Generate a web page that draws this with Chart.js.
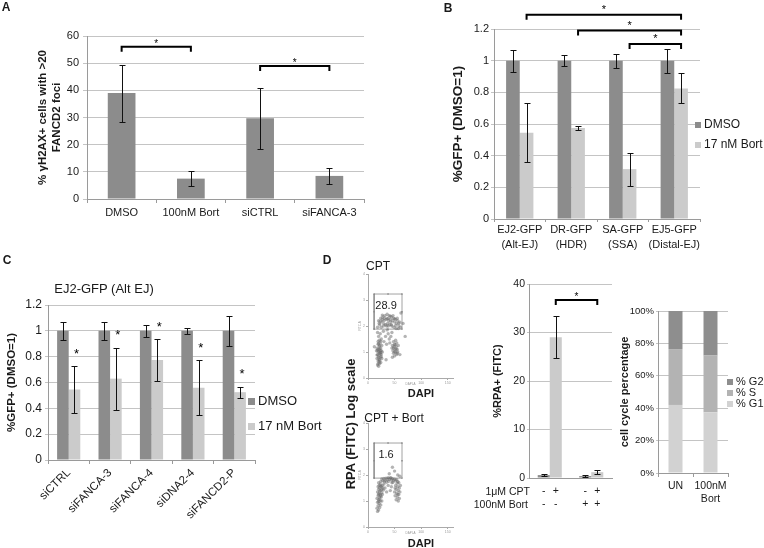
<!DOCTYPE html>
<html>
<head>
<meta charset="utf-8">
<script src="https://cdn.jsdelivr.net/npm/chart.js@4.4.1/dist/chart.umd.min.js"></script>
<style>
  body { margin: 0; background: #fff; }
  #wrap { position: relative; width: 764px; height: 548px; overflow: hidden; font-family: "Liberation Sans", Arial, sans-serif; color: #1a1a1a; }
  #wrap canvas { position: absolute; left: 0; top: 0; }
  .t { position: absolute; white-space: nowrap; line-height: 1; transform: translate(-50%, -50%); }
  .r { position: absolute; white-space: nowrap; line-height: 1; transform: translateY(-50%); text-align: right; }
  .b { font-weight: bold; }
</style>
</head>
<body>
<div id="wrap">
  <canvas id="cA" width="764" height="548"></canvas>
  <canvas id="cB" width="764" height="548"></canvas>
  <canvas id="cC" width="764" height="548"></canvas>
  <canvas id="cF1" width="764" height="548"></canvas>
  <canvas id="cF2" width="764" height="548"></canvas>
  <canvas id="cD" width="764" height="548"></canvas>
  <canvas id="cS" width="764" height="548"></canvas>

  <div class="t b" style="left:6px;top:7px;font-size:12px">A</div>
  <div class="t b" style="left:448px;top:8px;font-size:12px">B</div>
  <div class="t b" style="left:7px;top:260px;font-size:12px">C</div>
  <div class="t b" style="left:327px;top:260px;font-size:12px">D</div>
  <div class="t" style="left:104px;top:288px;font-size:13px">EJ2-GFP (Alt EJ)</div>
  <div class="t" style="left:378px;top:266px;font-size:12px">CPT</div>
  <div class="t" style="left:394px;top:418px;font-size:12px">CPT + Bort</div>
  <div class="t b" style="left:421px;top:393px;font-size:11px">DAPI</div>
  <div class="t b" style="left:421px;top:543px;font-size:11px">DAPI</div>
  <div class="t b" style="left:350px;top:424px;font-size:13px;transform:translate(-50%,-50%) rotate(-90deg)">RPA (FITC) Log scale</div>
  <div class="r" style="right:234px;top:491px;font-size:10.5px">1μM CPT</div>
  <div class="r" style="right:236px;top:504px;font-size:10.5px">100nM Bort</div>
</div>
<script>
// ---- panel A ----
const aLabels = ['DMSO', '100nM Bort', 'siCTRL', 'siFANCA-3'];
const aValues = [39, 7.5, 29.7, 8.5];
const aErrors = [10.5, 2.8, 11.3, 2.8];
const aBrackets = [[0, 1, 56], [2, 3, 49]];   // from bar, to bar, level

// ---- panel B ----
const bLabels = [['EJ2-GFP', '(Alt-EJ)'], ['DR-GFP', '(HDR)'], ['SA-GFP', '(SSA)'], ['EJ5-GFP', '(Distal-EJ)']];
const bDmso = [1, 1, 1, 1];
const bDmsoErr = [0.07, 0.035, 0.045, 0.075];
const bBort = [0.545, 0.575, 0.315, 0.825];
const bBortErr = [0.185, 0.012, 0.105, 0.095];
const bBrackets = [[0, 3, 1.29], [1, 3, 1.19], [2, 3, 1.105]];

// ---- panel C ----
const cLabels = ['siCTRL', 'siFANCA-3', 'siFANCA-4', 'siDNA2-4', 'siFANCD2-P'];
const cDmso = [1, 1, 1, 1, 1];
const cDmsoErr = [0.07, 0.07, 0.048, 0.025, 0.118];
const cBort = [0.545, 0.63, 0.775, 0.56, 0.525];
const cBortErr = [0.183, 0.24, 0.163, 0.215, 0.043];
const cStars = [0.83, 0.98, 1.04, 0.88, 0.68];

// ---- panel D, flow plots (DAPI vs RPA log decades) ----
const flowCpt = [
  // G1 column
  [18,0.5],[20,0.45],[22,0.55],[19,0.65],[24,0.6],[21,0.7],[17,0.75],[23,0.8],[26,0.75],[20,0.85],
  [18,0.9],[22,0.95],[25,0.9],[19,1.0],[23,1.05],[27,1.0],[20,1.1],[17,1.15],[24,1.15],[21,1.2],
  [26,1.25],[19,1.3],[23,1.35],[21,1.45],[25,1.5],[20,1.6],[23,1.7],[18,1.75],[22,0.68],[20,0.78],
  [24,0.98],[16,1.05],[22,1.25],[19,1.4],[21,0.62],[25,0.82],[18,1.08],[22,1.12],[20,1.32],[24,1.42],
  [19,0.55],[23,0.92],[21,1.0],[17,0.88],[25,1.05],
  // G2 column
  [46,0.8],[50,0.85],[54,0.9],[48,0.95],[52,1.0],[56,1.0],[47,1.05],[51,1.1],[55,1.1],[49,1.2],
  [53,1.2],[46,1.25],[50,1.3],[54,1.35],[48,1.4],[52,1.45],[57,1.25],[45,1.15],[50,1.0],[53,1.12],
  [48,1.15],[51,1.28],[55,0.95],
  // S phase
  [30,1.4],[35,1.3],[40,1.5],[33,1.6],[38,1.7],[43,1.6],[29,1.8],[36,1.85],[41,1.35],[45,1.75],
  // RPA+ band
  [18,1.95],[22,2.05],[26,2.15],[30,2.2],[34,2.25],[38,2.3],[42,2.25],[46,2.2],[50,2.15],[54,2.1],
  [58,2.0],[61,1.95],[20,2.2],[24,2.3],[28,2.35],[32,2.4],[36,2.45],[40,2.4],[44,2.35],[48,2.3],
  [52,2.25],[56,2.2],[60,2.15],[25,1.95],[29,2.0],[33,2.05],[37,2.1],[41,2.05],[45,2.0],[49,1.95],
  [53,1.9],[57,1.9],[31,2.3],[39,2.2],[47,2.4],[35,2.0],[43,2.15],[27,2.25],[55,2.3],[21,2.1],
  [23,2.18],[30,2.08],[36,2.28],[42,2.38],[50,2.28],[58,2.1],[27,2.42],[44,2.05],[38,2.0],[52,2.02],
  [62,2.5],[66,2.1],[70,1.6],[12,1.2],[60,0.9],[34,0.7]
];
const flowCptBort = [
  [18,0.6],[20,0.65],[17,0.72],[22,0.75],[19,0.82],[24,0.85],[21,0.9],[18,0.95],[23,1.0],[26,1.0],
  [20,1.05],[17,1.1],[22,1.15],[25,1.15],[19,1.2],[23,1.25],[27,1.25],[21,1.3],[18,1.35],[24,1.4],
  [26,1.45],[20,1.45],[22,1.5],[28,1.5],[19,1.55],[25,1.55],[21,1.6],[27,1.6],[23,1.65],[30,1.65],
  [20,0.98],[22,1.08],[24,1.2],[26,1.32],[20,1.25],[22,1.38],[24,1.58],[29,1.42],
  [20,1.7],[24,1.75],[28,1.78],[32,1.8],[36,1.82],[40,1.83],[44,1.82],[48,1.8],[52,1.78],[56,1.75],
  [26,1.85],[30,1.87],[34,1.88],[38,1.9],[42,1.88],[46,1.86],[50,1.84],[54,1.82],[58,1.7],[35,1.72],
  [45,1.7],[31,1.74],[39,1.76],[47,1.72],[43,1.9],
  [52,1.6],[56,1.55],[59,1.5],[53,1.45],[57,1.4],[60,1.35],[54,1.3],[58,1.25],[51,1.2],[55,1.15],
  [59,1.1],[53,1.05],[57,1.0],[50,1.35],[61,1.6],[55,1.68],[51,1.5],[56,1.25],
  [32,1.5],[38,1.6],[44,1.55],[35,1.35],[42,1.4],
  [40,2.05],[50,2.15],[56,2.0],[46,2.3],[60,1.95]
];
const gateBox = [[11.5,1.88],[37.75,1.88],[64,1.88],[64,2.55],[64,3.23],[37.75,3.23],[11.5,3.23],[11.5,2.55],[11.5,1.88]];
const gatePercent = ['28.9', '1.6'];

// ---- panel D, RPA bars ----
const dGroups = ['', ''];
const dNoCpt = [0.6, 0.4];
const dNoCptErr = [0.2, 0.15];
const dCpt = [29, 1.2];
const dCptErr = [4.3, 0.4];
const dCptRow = ['-', '+', '-', '+'];
const dBortRow = ['-', '-', '+', '+'];
const dBrackets = [[0, 1, 36.7]];

// ---- panel D, cell cycle ----
const sLabels = ['UN', ['100nM', 'Bort']];
const sG1 = [42, 37.5];
const sS = [34.5, 35];
const sG2 = [23.5, 27.5];

const DARK = '#8c8c8c', LIGHT = '#cbcbcb', GRID = '#c4c4c4', AXIS = '#9a9a9a', TEXT = '#1a1a1a';
const FONT = '"Liberation Sans", Arial, sans-serif';
Chart.defaults.font.family = FONT;
Chart.defaults.color = TEXT;

const errorBars = {
  id: 'errorBars',
  afterDatasetsDraw(chart) {
    const ctx = chart.ctx, y = chart.scales.y;
    chart.data.datasets.forEach((ds, i) => {
      if (!ds.err) return;
      chart.getDatasetMeta(i).data.forEach((bar, j) => {
        const v = ds.data[j], e = ds.err[j];
        const x = Math.round(bar.x) + 0.5;
        const t = Math.round(y.getPixelForValue(v + e)) + 0.5;
        const b = Math.round(y.getPixelForValue(v - e)) + 0.5;
        ctx.save();
        ctx.strokeStyle = '#111';
        ctx.lineWidth = 1;
        ctx.beginPath();
        ctx.moveTo(x, t); ctx.lineTo(x, b);
        ctx.moveTo(x - 3, t); ctx.lineTo(x + 3, t);
        ctx.moveTo(x - 3, b); ctx.lineTo(x + 3, b);
        ctx.stroke();
        ctx.restore();
      });
    });
  }
};

const brackets = {
  id: 'brackets',
  afterDatasetsDraw(chart, args, opts) {
    if (!opts.items) return;
    const ctx = chart.ctx, meta = chart.getDatasetMeta(opts.dataset);
    opts.items.forEach(([from, to, level]) => {
      const x1 = meta.data[from].x, x2 = meta.data[to].x;
      const yy = chart.scales.y.getPixelForValue(level);
      ctx.save();
      ctx.strokeStyle = '#000';
      ctx.lineWidth = 2;
      ctx.beginPath();
      ctx.moveTo(x1, yy + opts.drop);
      ctx.lineTo(x1, yy);
      ctx.lineTo(x2, yy);
      ctx.lineTo(x2, yy + opts.drop);
      ctx.stroke();
      ctx.fillStyle = '#000';
      ctx.font = opts.starSize + 'px ' + FONT;
      ctx.textAlign = 'center';
      ctx.textBaseline = 'alphabetic';
      ctx.fillText('*', (x1 + x2) / 2, yy - opts.starGap);
      ctx.restore();
    });
  }
};

const stars = {
  id: 'stars',
  afterDatasetsDraw(chart, args, opts) {
    if (!opts.values) return;
    const ctx = chart.ctx, meta = chart.getDatasetMeta(opts.dataset);
    ctx.save();
    ctx.fillStyle = '#000';
    ctx.font = opts.size + 'px ' + FONT;
    ctx.textAlign = 'center';
    ctx.textBaseline = 'alphabetic';
    opts.values.forEach((v, j) => {
      ctx.fillText('*', meta.data[j].x + 2, chart.scales.y.getPixelForValue(v) + opts.size * 0.42);
    });
    ctx.restore();
  }
};

const boxLegend = {
  id: 'boxLegend',
  afterDraw(chart, args, opts) {
    if (!opts.x) return;
    const ctx = chart.ctx;
    const order = opts.order || chart.data.datasets.map((d, i) => i);
    ctx.save();
    ctx.font = opts.size + 'px ' + FONT;
    ctx.textBaseline = 'middle';
    order.forEach((i, k) => {
      const ds = chart.data.datasets[i];
      const y = opts.y + k * opts.gap;
      ctx.fillStyle = ds.backgroundColor;
      ctx.fillRect(opts.x, Math.round(y - opts.box / 2), opts.box, opts.box);
      ctx.fillStyle = TEXT;
      ctx.fillText(ds.label, opts.x + opts.box + 3, y);
    });
    ctx.restore();
  }
};

const signRows = {
  id: 'signRows',
  afterDraw(chart, args, opts) {
    if (!opts.rows) return;
    const ctx = chart.ctx;
    ctx.save();
    ctx.font = opts.size + 'px ' + FONT;
    ctx.fillStyle = TEXT;
    ctx.textAlign = 'center';
    ctx.textBaseline = 'middle';
    opts.rows.forEach((row, r) => {
      row.forEach((s, k) => {
        const bar = chart.getDatasetMeta(k % 2).data[Math.floor(k / 2)];
        ctx.fillText(s, bar.x, opts.y[r]);
      });
    });
    ctx.restore();
  }
};

const gateLabel = {
  id: 'gateLabel',
  afterDraw(chart, args, opts) {
    if (!opts.text) return;
    const ctx = chart.ctx;
    ctx.save();
    ctx.font = opts.size + 'px ' + FONT;
    ctx.fillStyle = TEXT;
    ctx.textAlign = 'center';
    ctx.textBaseline = 'middle';
    ctx.fillText(opts.text, chart.scales.x.getPixelForValue(opts.at[0]), chart.scales.y.getPixelForValue(opts.at[1]));
    ctx.restore();
  }
};

function yAxis(min, max, step, size, tl, pad, title, titleSize, fmt) {
  return {
    min: min, max: max,
    ticks: { stepSize: step, font: { size: size }, padding: pad, color: TEXT, callback: fmt },
    grid: { color: GRID, tickLength: tl },
    border: { color: AXIS },
    title: { display: !!title, text: title, font: { size: titleSize, weight: 'bold' }, padding: 0, color: TEXT }
  };
}

function xAxis(size, tl, pad, extra) {
  return Object.assign({
    ticks: { font: { size: size }, padding: pad, color: TEXT, autoSkip: false, maxRotation: 0 },
    grid: { drawOnChartArea: false, tickLength: tl, color: AXIS, offset: true },
    border: { color: AXIS }
  }, extra || {});
}

function place(id, box, yW, xH, cfg) {
  const o = cfg.options;
  o.responsive = false;
  o.animation = false;
  o.layout = { padding: { left: box[0] - yW, top: box[1], right: 764 - box[2], bottom: 548 - box[3] - xH } };
  o.scales.x.afterFit = s => { s.height = xH; };
  o.scales.y.afterFit = s => { s.width = yW; };
  o.plugins = Object.assign({ legend: { display: false }, tooltip: { enabled: false } }, o.plugins);
  cfg.plugins = [errorBars, brackets, stars, boxLegend, signRows, gateLabel];
  return new Chart(document.getElementById(id), cfg);
}

const dec1 = v => String(+v.toFixed(1));

// A
place('cA', [87, 36, 364, 199], 87 - 36, 30, {
  type: 'bar',
  data: { labels: aLabels, datasets: [
    { label: 'A', data: aValues, err: aErrors, backgroundColor: DARK, barPercentage: 1, categoryPercentage: 0.4 }
  ] },
  options: {
    scales: {
      x: xAxis(11, 4, 3),
      y: yAxis(0, 60, 10, 11, 4, 4, ['% γH2AX+ cells with >20', 'FANCD2 foci'], 11.5)
    },
    plugins: { brackets: { dataset: 0, items: aBrackets, drop: 5, starSize: 10, starGap: 0 } }
  }
});

// B
place('cB', [494, 29, 700, 219], 494 - 450, 40, {
  type: 'bar',
  data: { labels: bLabels, datasets: [
    { label: 'DMSO', data: bDmso, err: bDmsoErr, backgroundColor: DARK, barPercentage: 1, categoryPercentage: 0.53 },
    { label: '17 nM Bort', data: bBort, err: bBortErr, backgroundColor: LIGHT, barPercentage: 1, categoryPercentage: 0.53 }
  ] },
  options: {
    scales: {
      x: xAxis(11, 3, 1, { ticks: { font: { size: 11, lineHeight: 1.35 }, padding: 1, color: TEXT, autoSkip: false, maxRotation: 0 } }),
      y: yAxis(0, 1.2, 0.2, 11, 3, 2, '%GFP+ (DMSO=1)', 13.5, dec1)
    },
    plugins: {
      brackets: { dataset: 1, items: bBrackets, drop: 5, starSize: 11, starGap: 2 },
      boxLegend: { x: 695, y: 125, gap: 20, box: 6, size: 12 }
    }
  }
});

// C
place('cC', [48, 305, 255, 460], 48 - 5, 70, {
  type: 'bar',
  data: { labels: cLabels, datasets: [
    { label: 'DMSO', data: cDmso, err: cDmsoErr, backgroundColor: DARK, barPercentage: 1, categoryPercentage: 0.56 },
    { label: '17 nM Bort', data: cBort, err: cBortErr, backgroundColor: LIGHT, barPercentage: 1, categoryPercentage: 0.56 }
  ] },
  options: {
    scales: {
      x: xAxis(11.5, 4, 2, { ticks: { font: { size: 11.5 }, padding: 2, color: TEXT, autoSkip: false, minRotation: 45, maxRotation: 45 } }),
      y: yAxis(0, 1.2, 0.2, 12, 3, 3, '%GFP+ (DMSO=1)', 11.5, dec1)
    },
    plugins: {
      stars: { dataset: 1, values: cStars, size: 13 },
      boxLegend: { x: 248, y: 401, gap: 25, box: 7, size: 13 }
    }
  }
});

// D flow plots
function flow(id, top, points, label) {
  const bottom = top + 104;
  place(id, [368, top, 453, bottom], 10, 8, {
    type: 'scatter',
    data: { datasets: [
      { data: points, pointRadius: 1.7, pointBorderWidth: 0, backgroundColor: 'rgba(105,105,105,0.5)' },
      { data: gateBox, showLine: true, borderColor: '#8a8a8a', borderWidth: 0.8, pointRadius: 1, pointStyle: 'rect', backgroundColor: '#8a8a8a', pointBorderWidth: 0 }
    ] },
    options: {
      scales: {
        x: { type: 'linear', min: 0, max: 160,
             ticks: { stepSize: 50, font: { size: 3.5 }, color: '#999', padding: 1, includeBounds: false },
             grid: { drawOnChartArea: false, tickLength: 2, color: '#aaa' }, border: { color: '#aaa' },
             title: { display: true, text: 'DAPI-A', font: { size: 3 }, color: '#999', padding: 0 } },
        y: { type: 'linear', min: 0, max: 4,
             ticks: { stepSize: 1, font: { size: 3.5 }, color: '#999', padding: 1, includeBounds: false },
             grid: { drawOnChartArea: false, tickLength: 2, color: '#aaa' }, border: { color: '#aaa' },
             title: { display: true, text: 'FITC-A', font: { size: 3 }, color: '#999', padding: 0 } }
      },
      plugins: { gateLabel: { text: label, at: [34, 2.77], size: 11 } }
    }
  });
}
flow('cF1', 274, flowCpt, gatePercent[0]);
flow('cF2', 423, flowCptBort, gatePercent[1]);

// D RPA bars
place('cD', [529, 284, 612, 478], 529 - 491, 10, {
  type: 'bar',
  data: { labels: dGroups, datasets: [
    { label: 'no CPT', data: dNoCpt, err: dNoCptErr, backgroundColor: DARK, barPercentage: 1, categoryPercentage: 0.58 },
    { label: 'CPT', data: dCpt, err: dCptErr, backgroundColor: LIGHT, barPercentage: 1, categoryPercentage: 0.58 }
  ] },
  options: {
    scales: {
      x: { ticks: { display: false }, grid: { display: false }, border: { color: AXIS } },
      y: yAxis(0, 40, 10, 10.5, 2, 2, '%RPA+ (FITC)', 11)
    },
    plugins: {
      brackets: { dataset: 1, items: dBrackets, drop: 5, starSize: 10, starGap: 0 },
      signRows: { rows: [dCptRow, dBortRow], y: [491, 504], size: 10.5 }
    }
  }
});

// D cell cycle
place('cS', [658, 311, 728, 473], 658 - 618, 35, {
  type: 'bar',
  data: { labels: sLabels, datasets: [
    { label: '% G1', data: sG1, backgroundColor: '#d2d2d2', barPercentage: 1, categoryPercentage: 0.4 },
    { label: '% S', data: sS, backgroundColor: '#b3b3b3', barPercentage: 1, categoryPercentage: 0.4 },
    { label: '% G2', data: sG2, backgroundColor: '#8e8e8e', barPercentage: 1, categoryPercentage: 0.4 }
  ] },
  options: {
    scales: {
      x: Object.assign(xAxis(10.5, 4, 3), { stacked: true }),
      y: Object.assign(yAxis(0, 100, 20, 9.5, 2, 2, 'cell cycle percentage', 11, v => v + '%'), { stacked: true })
    },
    plugins: { boxLegend: { x: 727, y: 382, gap: 11, box: 6, size: 11, order: [2, 1, 0] } }
  }
});
</script>
</body>
</html>
